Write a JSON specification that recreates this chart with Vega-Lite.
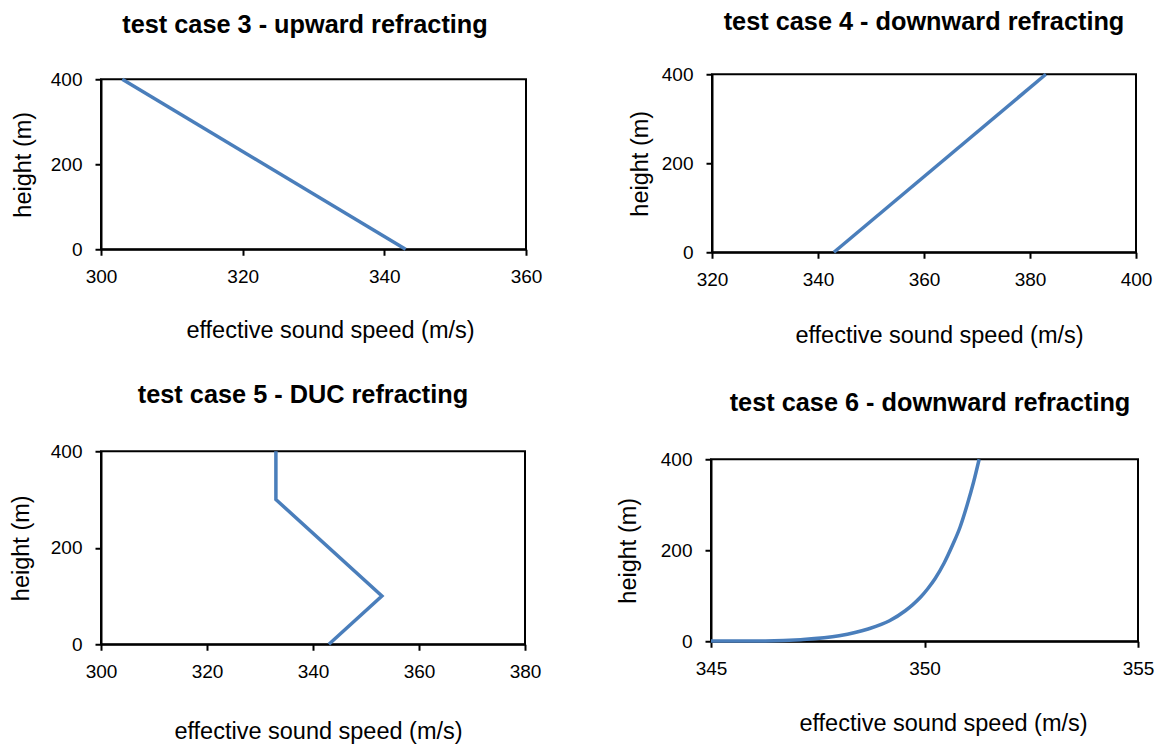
{
  "$schema": "https://vega.github.io/schema/vega-lite/v6.json",
  "padding": {"left": 7, "top": 8, "right": 0, "bottom": 0},
  "background": "white",
  "datasets": {
    "p3": [
      {"speed": 343, "height": 0},
      {"speed": 303, "height": 400}
    ],
    "p4": [
      {"speed": 343, "height": 0},
      {"speed": 383, "height": 400}
    ],
    "p5": [
      {"speed": 343, "height": 0},
      {"speed": 353, "height": 100},
      {"speed": 333, "height": 300},
      {"speed": 333, "height": 400}
    ],
    "p6": [
      {"speed": 345.0, "height": 0.3},
      {"speed": 346.27, "height": 0.8},
      {"speed": 347.1, "height": 3.5},
      {"speed": 348.0, "height": 12},
      {"speed": 348.68, "height": 27},
      {"speed": 349.18, "height": 45},
      {"speed": 349.55, "height": 67},
      {"speed": 349.72, "height": 80},
      {"speed": 349.9, "height": 96},
      {"speed": 350.08, "height": 116},
      {"speed": 350.25, "height": 138},
      {"speed": 350.46, "height": 172},
      {"speed": 350.66, "height": 212},
      {"speed": 350.83, "height": 250},
      {"speed": 351.0, "height": 300},
      {"speed": 351.15, "height": 350},
      {"speed": 351.28, "height": 400}
    ]
  },
  "config": {
    "font": "Liberation Sans",
    "view": {"stroke": "black", "strokeWidth": 2},
    "axis": {
      "domainColor": "black", "domainWidth": 2,
      "tickColor": "black", "tickWidth": 2, "tickSize": 6,
      "grid": false,
      "labelFont": "Liberation Sans", "labelFontSize": 19, "labelColor": "black",
      "titleFont": "Liberation Sans", "titleFontSize": 23.5, "titleFontWeight": "normal", "titleColor": "black",
      "labelFlush": false, "labelOverlap": false, "titleBaseline": "alphabetic"
    },
    "axisX": {"labelPadding": 12},
    "axisY": {"labelPadding": 13},
    "title": {"font": "Liberation Sans", "fontSize": 25.3, "fontWeight": "bold", "color": "black", "baseline": "alphabetic", "frame": "group", "anchor": "middle"},
    "line": {"color": "#4a7ebb", "strokeWidth": 3.5, "clip": true}
  },
  "spacing": 33,
  "vconcat": [
    {
      "spacing": 83,
      "center": true,
      "hconcat": [
        {
          "width": 425, "height": 170,
          "title": {"text": "test case 3 - upward refracting", "offset": 32, "dx": -8.5},
          "data": {"name": "p3"},
          "mark": {"type": "line"},
          "encoding": {
            "x": {"field": "speed", "type": "quantitative", "scale": {"domain": [300, 360], "nice": false, "zero": false},
                  "axis": {"values": [300, 320, 340, 360], "title": "effective sound speed (m/s)", "titleX": 229, "titleY": 88}},
            "y": {"field": "height", "type": "quantitative", "scale": {"domain": [0, 400], "nice": false},
                  "axis": {"values": [0, 200, 400], "title": "height (m)", "titleX": -71}},
            "order": {"field": "height", "type": "quantitative"}
          }
        },
        {
          "width": 424, "height": 178,
          "title": {"text": "test case 4 - downward refracting", "offset": 30, "dx": 0},
          "data": {"name": "p4"},
          "mark": {"type": "line"},
          "encoding": {
            "x": {"field": "speed", "type": "quantitative", "scale": {"domain": [320, 400], "nice": false, "zero": false},
                  "axis": {"values": [320, 340, 360, 380, 400], "title": "effective sound speed (m/s)", "titleX": 227, "titleY": 90}},
            "y": {"field": "height", "type": "quantitative", "scale": {"domain": [0, 400], "nice": false},
                  "axis": {"values": [0, 200, 400], "title": "height (m)", "titleX": -65}},
            "order": {"field": "height", "type": "quantitative"}
          }
        }
      ]
    },
    {
      "spacing": 72,
      "center": true,
      "hconcat": [
        {
          "width": 424, "height": 193,
          "title": {"text": "test case 5 - DUC refracting", "offset": 34, "dx": -10},
          "data": {"name": "p5"},
          "mark": {"type": "line"},
          "encoding": {
            "x": {"field": "speed", "type": "quantitative", "scale": {"domain": [300, 380], "nice": false, "zero": false},
                  "axis": {"values": [300, 320, 340, 360, 380], "title": "effective sound speed (m/s)", "titleX": 217, "titleY": 94}},
            "y": {"field": "height", "type": "quantitative", "scale": {"domain": [0, 400], "nice": false},
                  "axis": {"values": [0, 200, 400], "title": "height (m)", "titleX": -73}},
            "order": {"field": "height", "type": "quantitative"}
          }
        },
        {
          "width": 427, "height": 182,
          "title": {"text": "test case 6 - downward refracting", "offset": 34, "dx": 5.5},
          "data": {"name": "p6"},
          "mark": {"type": "line", "interpolate": "monotone"},
          "encoding": {
            "x": {"field": "speed", "type": "quantitative", "scale": {"domain": [345, 355], "nice": false, "zero": false},
                  "axis": {"values": [345, 350, 355], "title": "effective sound speed (m/s)", "titleX": 232, "titleY": 89}},
            "y": {"field": "height", "type": "quantitative", "scale": {"domain": [0, 400], "nice": false},
                  "axis": {"values": [0, 200, 400], "title": "height (m)", "titleX": -76}},
            "order": {"field": "height", "type": "quantitative"}
          }
        }
      ]
    }
  ]
}
